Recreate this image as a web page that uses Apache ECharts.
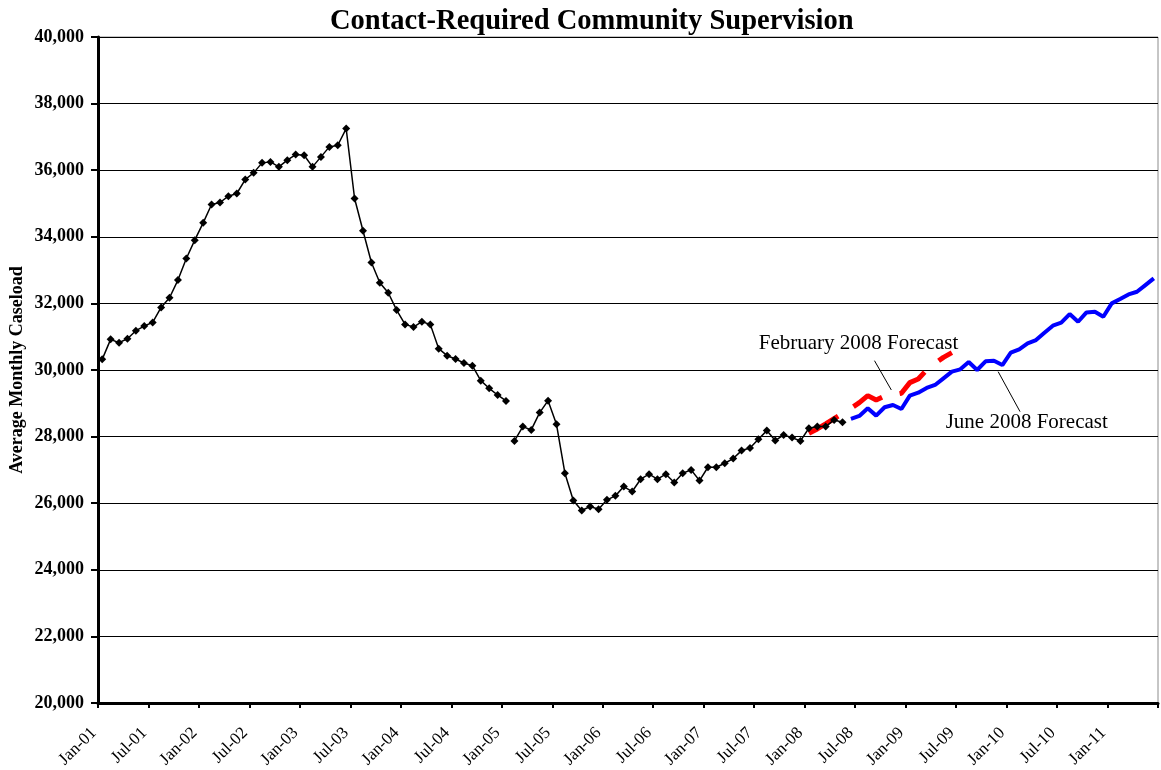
<!DOCTYPE html>
<html>
<head>
<meta charset="utf-8">
<title>Contact-Required Community Supervision</title>
<script src="https://cdn.jsdelivr.net/npm/echarts@6/dist/echarts.min.js"></script>
<style>
  html, body { margin: 0; padding: 0; background: #ffffff; }
  #chart { width: 1161px; height: 770px; }
</style>
</head>
<body>
<div id="chart"></div>
<script>
// Monthly slots Jan-01 .. Jun-11 on the horizontal axis
const monthNames = ['Jan','Feb','Mar','Apr','May','Jun','Jul','Aug','Sep','Oct','Nov','Dec'];
const months = [];
for (let y = 1; y <= 11; y++) {
  for (let m = 0; m < 12; m++) {
    if (y === 11 && m > 5) break;
    months.push(monthNames[m] + '-' + String(y).padStart(2, '0'));
  }
}

// Labels shown every six months
const tickLabels = ['Jan-01','Jul-01','Jan-02','Jul-02','Jan-03','Jul-03','Jan-04','Jul-04',
  'Jan-05','Jul-05','Jan-06','Jul-06','Jan-07','Jul-07','Jan-08','Jul-08','Jan-09','Jul-09',
  'Jan-10','Jul-10','Jan-11'];

// Actual caseload, Jan-01 .. Jan-05
const actualStartA = 'Jan-01';
const actualA = [30320, 30920, 30820, 30940, 31180, 31320, 31430, 31880, 32170, 32700,
  33350, 33900, 34420, 34970, 35030, 35220, 35300, 35720, 35920, 36220,
  36250, 36100, 36300, 36470, 36450, 36100, 36400, 36700, 36750, 37250,
  35150, 34180, 33230, 32620, 32320, 31800, 31370, 31290, 31450, 31370,
  30640, 30430, 30330, 30210, 30130, 29680, 29450, 29250, 29070];

// Actual caseload, Feb-05 .. May-08
const actualStartB = 'Feb-05';
const actualB = [27870, 28300, 28200, 28720, 29080, 28370, 26900, 26080, 25780, 25900,
  25820, 26100, 26220, 26500, 26350, 26720, 26870, 26720, 26870, 26620,
  26900, 27000, 26680, 27080, 27080, 27200, 27340, 27580, 27660, 27920,
  28180, 27880, 28050, 27970, 27870, 28250, 28300, 28300, 28500, 28430];

// February 2008 forecast, Jan-08 .. Jun-09
const febStart = 'Jan-08';
const febForecast = [28100, 28230, 28380, 28540, 28700, 28850, 29020, 29230, 29100, 29220,
  29250, 29300, 29620, 29730, 30000, 30200, 30380, 30520];

// June 2008 forecast, Jun-08 .. Jun-11
const juneStart = 'Jun-08';
const juneForecast = [28530, 28620, 28850, 28630, 28880, 28950, 28830, 29230, 29320, 29460,
  29550, 29750, 29950, 30020, 30240, 30000, 30260, 30280, 30150, 30520,
  30620, 30800, 30900, 31120, 31330, 31420, 31680, 31450, 31730, 31750,
  31600, 32000, 32130, 32270, 32350, 32550, 32750];

// Each month is drawn at the middle of its slot
function toPoints(start, values) {
  const i0 = months.indexOf(start);
  return values.map((v, k) => [i0 + k + 0.5, v]);
}

const serif = '"Liberation Serif", "Times New Roman", serif';

const chart = echarts.init(document.getElementById('chart'), null, { renderer: 'canvas' });

const actualStyle = {
  type: 'line',
  symbol: 'diamond',
  symbolSize: 8,
  itemStyle: { color: '#000000' },
  lineStyle: { color: '#000000', width: 1.5 },
  z: 4,
  animation: false
};

chart.setOption({
  animation: false,
  title: {
    text: 'Contact-Required Community Supervision',
    left: 325,
    top: 2,
    textStyle: { fontFamily: serif, fontWeight: 'bold', fontSize: 28.5, color: '#000000' }
  },
  grid: {
    left: 98, right: 3, top: 37, bottom: 67,
    containLabel: false,
    outerBoundsMode: 'none',
    show: true, borderColor: '#8c8c8c', borderWidth: 1, backgroundColor: '#ffffff'
  },
  xAxis: {
    type: 'value',
    min: 0, max: months.length, interval: 6,
    axisLine: { show: true, onZero: false, lineStyle: { color: '#000000', width: 3 } },
    axisTick: { show: true, length: 5, lineStyle: { color: '#000000', width: 2 } },
    splitLine: { show: false },
    axisLabel: {
      rotate: 45, margin: 23,
      padding: [0, 6, 0, 0],
      fontFamily: serif, fontSize: 17, color: '#000000',
      showMinLabel: true, showMaxLabel: true,
      formatter: v => tickLabels[Math.round(v / 6)] || ''
    }
  },
  yAxis: {
    type: 'value',
    min: 20000, max: 40000, interval: 2000,
    name: 'Average Monthly Caseload',
    nameLocation: 'middle',
    nameGap: 72,
    nameMoveOverlap: false,
    nameRotate: 90,
    nameTextStyle: { fontFamily: serif, fontWeight: 'bold', fontSize: 18, color: '#000000' },
    axisLine: { show: true, lineStyle: { color: '#000000', width: 3 } },
    axisTick: { show: true, length: 7, lineStyle: { color: '#000000', width: 2 } },
    splitLine: { show: true, lineStyle: { color: '#000000', width: 1 } },
    axisLabel: {
      margin: 14,
      fontFamily: serif, fontWeight: 'bold', fontSize: 18, color: '#000000',
      formatter: v => v.toLocaleString('en-US')
    }
  },
  series: [
    {
      name: 'February 2008 Forecast',
      type: 'line',
      data: toPoints(febStart, febForecast),
      showSymbol: false,
      symbol: 'none',
      lineStyle: { color: '#ff0000', width: 5, type: [34, 18], cap: 'butt' },
      z: 3,
      markLine: {
        silent: true,
        symbol: ['none', 'none'],
        lineStyle: { color: '#000000', width: 1, type: 'solid' },
        label: { show: false },
        data: [
          [{ coord: [92.3, 30280] }, { coord: [94.3, 29400] }],
          [{ coord: [107.0, 29950] }, { coord: [109.6, 28750] }]
        ]
      },
      markPoint: {
        silent: true,
        symbol: 'circle',
        symbolSize: 0,
        label: {
          show: true, position: 'inside',
          fontFamily: serif, fontSize: 21, color: '#000000',
          formatter: p => p.name
        },
        data: [
          { name: 'February 2008 Forecast', coord: [90.4, 30800] },
          { name: 'June 2008 Forecast', coord: [110.4, 28420] }
        ]
      }
    },
    {
      name: 'June 2008 Forecast',
      type: 'line',
      data: toPoints(juneStart, juneForecast),
      showSymbol: false,
      symbol: 'none',
      lineStyle: { color: '#0000ff', width: 4 },
      z: 3
    },
    Object.assign({ name: 'Actual', data: toPoints(actualStartA, actualA) }, actualStyle),
    Object.assign({ name: 'Actual (continued)', data: toPoints(actualStartB, actualB) }, actualStyle)
  ]
});
</script>
</body>
</html>
